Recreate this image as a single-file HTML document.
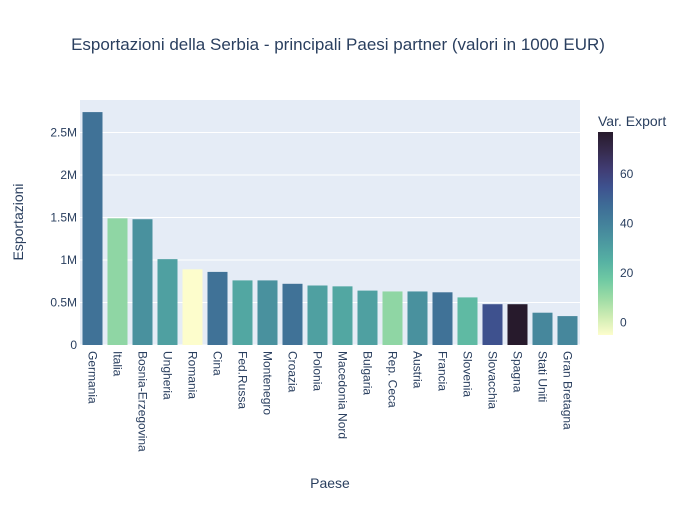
<!DOCTYPE html>
<html><head><meta charset="utf-8"><style>
body{margin:0;background:#fff;font-family:"Liberation Sans",sans-serif}
text{font-family:"Liberation Sans",sans-serif;fill:#2a3f5f}
</style></head><body>
<svg id="c" width="700" height="500">
<text x="338" y="50" font-size="17" text-anchor="middle">Esportazioni della Serbia - principali Paesi partner (valori in 1000 EUR)</text>
<rect x="80" y="100" width="500" height="245" fill="#e5ecf6"/>
<g id="grid"></g><g id="bars"></g><g id="xl"></g><g id="cb"></g>
<text x="330" y="488" font-size="14" text-anchor="middle">Paese</text>
<text transform="translate(23,222) rotate(-90)" font-size="14" text-anchor="middle">Esportazioni</text>
<text x="598" y="126" font-size="14">Var. Export</text>
</svg>
<script>
const categories=["Germania","Italia","Bosnia-Erzegovina","Ungheria","Romania","Cina","Fed.Russa","Montenegro","Croazia","Polonia","Macedonia Nord","Bulgaria","Rep. Ceca","Austria","Francia","Slovenia","Slovacchia","Spagna","Stati Uniti","Gran Bretagna"];
const exportValues=[2.74,1.49,1.48,1.01,0.89,0.86,0.76,0.76,0.72,0.70,0.69,0.64,0.63,0.63,0.62,0.56,0.48,0.48,0.38,0.34];
const varExport=[45,12,35,30,-5,45,28,35,45,30,28,30,12,35,45,22,55,77,38,38];
const yTicks=[0,0.5,1,1.5,2,2.5];
const yTickLabels=["0","0.5M","1M","1.5M","2M","2.5M"];
const cbTicks=[0,20,40,60];
const stops=[[253,253,204],[206,236,179],[156,219,165],[111,201,163],[86,177,163],[76,153,160],[68,130,155],[62,108,150],[62,82,143],[64,60,115],[54,43,77],[39,26,44]];
const cmin=-5,cmax=77;
const NS="http://www.w3.org/2000/svg";
const x0=80,pw=500,yb=345,ppm=85;
const y=v=>yb-v*ppm;
const cy=v=>335-(v-cmin)/(cmax-cmin)*203;
function col(v){let t=Math.max(0,Math.min(1,(v-cmin)/(cmax-cmin)))*(stops.length-1);let i=Math.min(Math.floor(t),stops.length-2),f=t-i;const a=stops[i],b=stops[i+1];return `rgb(${a.map((c,k)=>Math.round(c+(b[k]-c)*f)).join(",")})`;}
function mk(tag,at,parent){const e=document.createElementNS(NS,tag);for(const k in at)e.setAttribute(k,at[k]);document.getElementById(parent).appendChild(e);return e;}
yTicks.forEach((v,i)=>{
 const l=mk("line",{x1:x0,x2:x0+pw,y1:y(v),y2:y(v),stroke:"#fff","stroke-width":1},"grid");
 
 
 const t=mk("text",{x:x0-3,y:y(v)+4,"font-size":12,"text-anchor":"end"},"grid");
 t.textContent=yTickLabels[i];
 
 
});
const bw=pw/categories.length;
categories.forEach((c,i)=>{
 const r=mk("rect",{x:x0+i*bw+2.5,y:y(exportValues[i]),width:bw-5,height:exportValues[i]*ppm,fill:col(varExport[i])},"bars");
 
 
 const cx=x0+i*bw+bw/2;
 const t=mk("text",{transform:`translate(${cx-4},351) rotate(90)`,"font-size":12},"xl");
 t.textContent=c;
 
 
});
const defs=mk("defs",{},"cb");
const g=mk("linearGradient",{id:"gr",x1:0,y1:1,x2:0,y2:0},"cb");defs.appendChild(g);
stops.forEach((s,i)=>{const st=document.createElementNS(NS,"stop");st.setAttribute("offset",i/(stops.length-1));st.setAttribute("stop-color",`rgb(${s})`);g.appendChild(st);});
const cbr=mk("rect",{x:598,y:132,width:15,height:203,fill:"url(#gr)"},"cb");


cbTicks.forEach(v=>{
 const t=mk("text",{x:620,y:cy(v)+4,"font-size":12},"cb");
 t.textContent=v;
 
 
});
</script>
</body></html>
